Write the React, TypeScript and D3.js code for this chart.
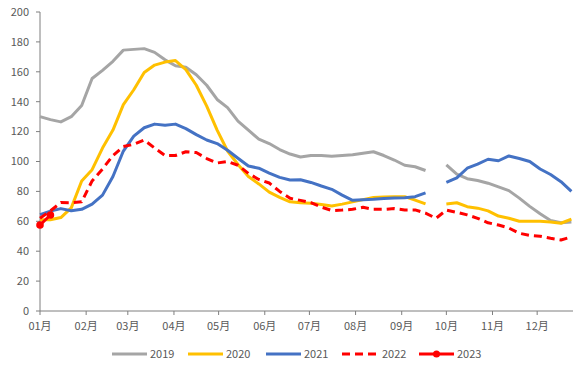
import React from 'react';
import * as d3 from 'd3';

// weekly samples, index 0 = first week of January
const s2019 = [130, 128, 126.5, 130, 137.5, 155.5, 161, 167, 174.5, 175, 175.5, 173, 168, 164, 163, 158, 151, 141.5, 136, 127, 121, 115, 112, 108, 105, 103, 104, 104, 103.5, 104, 104.5, 105.5, 106.5, 104, 101, 97.5, 96.5, 94, null, 97.7, 91.5, 88.5, 87.3, 85.5, 83, 80.5, 75.5, 70, 65, 60.5, 59, 59.5];
const s2020 = [61, 61, 62.5, 69, 87, 94.5, 109, 121, 138, 148, 159.5, 164.5, 166.5, 167.5, 161.5, 151, 137, 121, 107, 98, 90, 85, 79.5, 76, 73, 72.4, 72, 71.2, 70.2, 71.5, 73, 74.5, 76, 76.2, 76.5, 76.5, 74.2, 71.6, null, 71.6, 72.4, 69.8, 68.8, 67, 63.5, 62, 60, 60, 60, 59.5, 58.7, 61.5];
const s2021 = [64.5, 66.8, 68.5, 67, 68, 71.5, 77.5, 90, 107, 117, 122.6, 125, 124.2, 125, 122, 118, 114.4, 112, 107.5, 102.2, 97, 95.5, 92.3, 89.4, 87.6, 87.8, 86, 83.6, 81.4, 77.5, 74, 74.4, 74.7, 75.3, 75.6, 75.8, 76.5, 79, null, 86, 89, 95.5, 98.3, 101.5, 100.5, 103.7, 102, 100, 95, 91.3, 86.5, 80];
const s2022 = [62, 67, 72.5, 72.4, 73, 87, 95, 104, 110, 111.5, 114.4, 109, 104, 104, 106.5, 106, 102, 99, 100, 97.5, 92, 88, 85.6, 80, 75.4, 74, 72.5, 69.5, 67.2, 67.5, 68, 69.4, 68, 68, 68.5, 67.6, 67.6, 65.5, 62, 67.5, 66, 64.3, 62, 59, 57.5, 55.5, 52, 50.6, 50, 48.6, 47.5, 49.5];
const s2023 = [57.5, 64.2];

const monthLabels = ['01月', '02月', '03月', '04月', '05月', '06月', '07月', '08月', '09月', '10月', '11月', '12月'];
const monthStartDays = [0, 31, 59, 90, 120, 151, 181, 212, 243, 273, 304, 334];
const yTicks = [0, 20, 40, 60, 80, 100, 120, 140, 160, 180, 200];

const series = [
  { name: '2019', values: s2019, color: '#A5A5A5', dash: null, dots: false },
  { name: '2020', values: s2020, color: '#FFC000', dash: null, dots: false },
  { name: '2021', values: s2021, color: '#4472C4', dash: null, dots: false },
  { name: '2022', values: s2022, color: '#FF0000', dash: '8,5', dots: false },
  { name: '2023', values: s2023, color: '#FF0000', dash: null, dots: true },
];

const W = 578;
const H = 365;
const axisColor = '#7F7F7F';
const textColor = '#595959';
const font = '"Noto Sans CJK SC", "Liberation Sans", sans-serif';

export default function App(): React.ReactElement {
  const x = d3.scaleLinear().domain([0, 51]).range([40, 571.4]);
  const y = d3.scaleLinear().domain([0, 200]).range([311, 12]);

  const line = d3.line<number | null>()
    .defined((d) => d != null)
    .x((_, i) => x(i))
    .y((d) => y(d as number));

  const legendX = [112, 188, 266, 342, 419];

  return (
    <svg width={W} height={H} style={{ position: 'absolute', left: 0, top: 0 }}>
      <rect width={W} height={H} fill="#fff" />
      {/* y axis */}
      <line x1={40} x2={40} y1={y(200)} y2={y(0)} stroke={axisColor} />
      {yTicks.map((t) => (
        <g key={t}>
          <line x1={36} x2={40} y1={y(t)} y2={y(t)} stroke={axisColor} />
          <text x={29} y={y(t)} dy="0.35em" textAnchor="end" fontSize={11} fill={textColor} fontFamily={font}>{t}</text>
        </g>
      ))}
      {/* x axis */}
      <line x1={40} x2={573} y1={y(0)} y2={y(0)} stroke={axisColor} />
      {monthStartDays.map((d, i) => (
        <g key={d}>
          <line x1={x(d / 7)} x2={x(d / 7)} y1={y(0)} y2={y(0) + 4} stroke={axisColor} />
          <text x={x(d / 7)} y={330} textAnchor="middle" fontSize={11} fill={textColor} fontFamily={font}>{monthLabels[i]}</text>
        </g>
      ))}
      {/* series */}
      {series.map((s) => (
        <g key={s.name}>
          <path d={line(s.values) || ''} fill="none" stroke={s.color} strokeWidth={3}
            strokeDasharray={s.dash || undefined} strokeLinejoin="round" />
          {s.dots && s.values.map((v, i) => (
            <circle key={i} cx={x(i)} cy={y(v as number)} r={3.8} fill={s.color} />
          ))}
        </g>
      ))}
      {/* legend */}
      {series.map((s, i) => (
        <g key={s.name} transform={`translate(${legendX[i]},354)`}>
          <line x1={0} x2={35} y1={0} y2={0} stroke={s.color} strokeWidth={3}
            strokeDasharray={s.dash || undefined} />
          {s.dots && <circle cx={17.5} cy={0} r={3.5} fill={s.color} />}
          <text x={s.name === '2022' ? 40 : 38} y={0} dy="0.35em" fontSize={11} fill={textColor} fontFamily={font}>{s.name}</text>
        </g>
      ))}
    </svg>
  );
}
